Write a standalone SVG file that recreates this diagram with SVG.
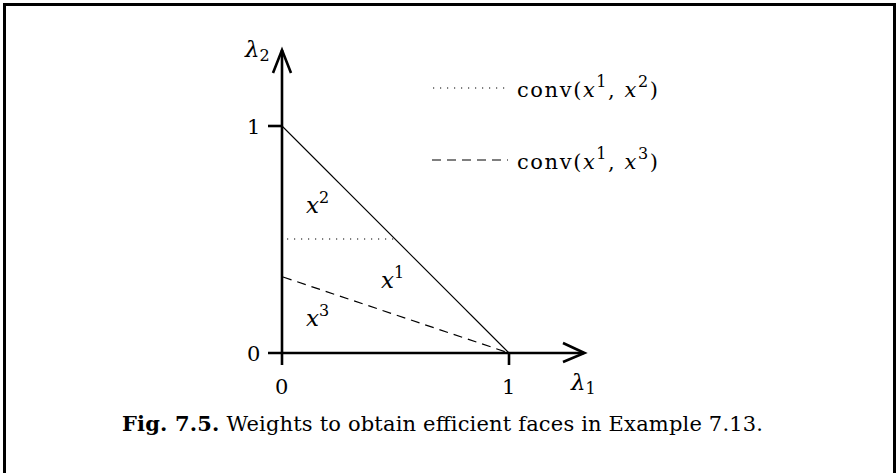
<svg xmlns="http://www.w3.org/2000/svg" width="896" height="473" viewBox="0 0 896 473">
<style>
text{font-family:"DejaVu Serif","Liberation Serif",serif;fill:#000;font-size:21px}
.it{font-style:italic}
.axis{stroke:#000;stroke-width:2.6;fill:none}
.thin{stroke:#000;stroke-width:1.1;fill:none}
.dot{stroke:#000;stroke-width:1.2;fill:none;stroke-dasharray:1.2 5.8}
.dash{stroke:#000;stroke-width:1.2;fill:none;stroke-dasharray:9 6}
.lab{font-size:23px}
.sup{font-size:16px;font-style:normal}
</style>
<rect width="896" height="473" fill="#fff"/>
<path d="M4.5,473 V4.5 H894.5 V473" fill="none" stroke="#000" stroke-width="3"/>
<g id="connectors">
<g id="axes">
<path class="axis" d="M282,365 V50"/>
<path class="axis" d="M273,73 L282,50 L291,73"/>
<path class="axis" d="M268,353 H584"/>
<path class="axis" d="M563,343 L584.5,353 L563,362"/>
<path class="axis" d="M268,126 H282"/>
<path class="axis" d="M509,353 V365"/>
</g>
<path class="thin" d="M282,126 L509,353"/>
<path class="dot" d="M287,239 H396"/>
<path class="dash" d="M283,277 L509,353"/>
<path class="dot" d="M433,88 H508"/>
<path class="dash" d="M432,160 H508"/>
</g>
<g id="labels">
<text x="245" y="57" class="it lab">λ<tspan class="sup" dy="4">2</tspan></text>
<text x="247" y="134" font-size="22">1</text>
<text x="247" y="361" font-size="22">0</text>
<text x="275" y="394" font-size="22">0</text>
<text x="502" y="394" font-size="22">1</text>
<text x="571" y="390" class="it lab">λ<tspan class="sup" dy="4">1</tspan></text>
<text x="306" y="213" class="it lab">x<tspan class="sup" dy="-10">2</tspan></text>
<text x="381" y="288" class="it lab">x<tspan class="sup" dy="-10">1</tspan></text>
<text x="306" y="326" class="it lab">x<tspan class="sup" dy="-10">3</tspan></text>
</g>
<g id="legend">
<text x="517" y="97" font-size="23.5" textLength="141" lengthAdjust="spacing">conv(<tspan class="it">x</tspan><tspan class="sup" dy="-10">1</tspan><tspan dy="10">, </tspan><tspan class="it">x</tspan><tspan class="sup" dy="-10">2</tspan><tspan dy="10">)</tspan></text>
<text x="517" y="169" font-size="23.5" textLength="141" lengthAdjust="spacing">conv(<tspan class="it">x</tspan><tspan class="sup" dy="-10">1</tspan><tspan dy="10">, </tspan><tspan class="it">x</tspan><tspan class="sup" dy="-10">3</tspan><tspan dy="10">)</tspan></text>
</g>
<g id="caption">
<text x="122" y="431" font-size="20" textLength="641" lengthAdjust="spacing"><tspan font-weight="bold">Fig. 7.5.</tspan> Weights to obtain efficient faces in Example 7.13.</text>
</g>
</svg>
